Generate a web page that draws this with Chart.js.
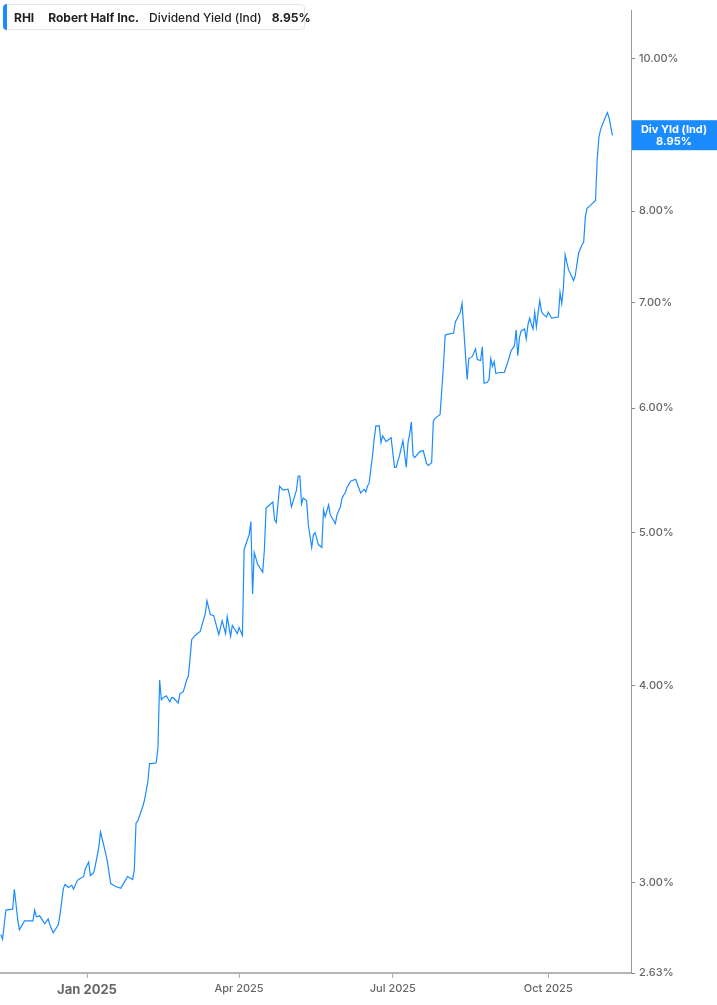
<!DOCTYPE html>
<html><head><meta charset="utf-8">
<script src="https://cdn.jsdelivr.net/npm/chart.js@4"></script>
<style>
html,body{margin:0;padding:0;background:#fff;font-family:Inter,"Noto Sans",sans-serif}
#wrap{position:relative;width:717px;height:1005px}
#legend{position:absolute;left:3px;top:4px;height:26px;width:302px;border:1px solid #e6e6e6;border-radius:4px;background:#fff;box-sizing:border-box;display:flex;align-items:center;font-size:12px;font-weight:700;color:#222;white-space:nowrap}
#legend .bar{position:absolute;left:-1px;top:-1px;bottom:-1px;width:4px;background:#1a8cff;border-radius:4px 0 0 4px}
#legend span{margin-left:10px}
</style></head><body>
<div id="wrap"><canvas id="c" width="717" height="1005"></canvas>
<div id="legend"><div class="bar"></div><span>RHI</span><span style="margin-left:14px">Robert Half Inc.</span><span style="margin-left:10px;font-weight:500">Dividend Yield (Ind)</span><span>8.95%</span></div>
</div>
<script>
// days relative to 1 Jan 2025
const days = [-51,-50,-48,-44,-43,-41,-40,-37,-32,-31,-30,-28,-25,-23,-22,-20,-17,-16,-14,-13,-11,-9,-8,-6,-5,-2,-1,1,2,4,5,7,8,10,12,14,17,20,22,24,27,28,29,30,33,34,36,37,38,41,42,43,44,45,47,49,50,51,54,55,57,59,60,61,62,64,67,70,71,73,75,78,80,82,83,85,86,89,90,92,93,96,97,98,99,101,104,105,106,110,111,112,114,116,119,120,121,124,125,126,127,128,130,131,133,134,135,137,139,140,141,143,144,147,148,150,151,153,154,156,159,162,164,165,166,167,169,170,171,173,174,175,177,180,182,183,185,187,189,190,191,192,193,194,197,199,201,202,204,205,206,209,211,212,214,217,218,221,222,225,226,228,230,231,233,234,235,237,238,239,240,241,242,244,247,249,251,253,254,255,256,257,259,260,261,262,263,264,265,266,267,268,269,270,272,273,275,279,280,281,282,283,285,288,289,291,293,294,295,296,298,301,302,303,304,307,308,309,311];
const yieldPct = [2.782,2.763,2.883,2.887,2.972,2.842,2.801,2.838,2.838,2.883,2.855,2.859,2.826,2.846,2.822,2.789,2.822,2.863,2.976,2.993,2.980,2.989,2.972,3.006,3.015,3.028,3.063,3.093,3.032,3.045,3.080,3.161,3.231,3.166,3.098,2.997,2.984,2.976,3.002,3.028,3.015,3.058,3.273,3.283,3.354,3.384,3.477,3.570,3.570,3.575,3.657,4.034,3.919,3.931,3.942,3.907,3.931,3.931,3.901,3.954,3.966,4.034,4.057,4.165,4.280,4.305,4.330,4.444,4.529,4.438,4.431,4.311,4.399,4.317,4.425,4.299,4.368,4.317,4.355,4.305,4.881,4.988,5.084,4.574,4.860,4.776,4.722,4.881,5.186,5.231,5.098,5.076,5.353,5.323,5.330,5.277,5.194,5.323,5.432,5.432,5.217,5.262,5.240,5.061,4.895,4.988,5.002,4.916,4.895,5.172,5.120,5.209,5.135,5.069,5.135,5.194,5.262,5.308,5.346,5.392,5.408,5.300,5.330,5.308,5.353,5.377,5.599,5.738,5.846,5.846,5.705,5.762,5.713,5.746,5.503,5.503,5.599,5.721,5.503,5.705,5.779,5.880,5.599,5.582,5.631,5.639,5.534,5.518,5.540,5.886,5.911,5.944,6.387,6.676,6.685,6.695,6.801,6.902,6.990,6.257,6.450,6.468,6.542,6.441,6.432,6.561,6.221,6.230,6.257,6.450,6.376,6.422,6.311,6.320,6.320,6.413,6.524,6.570,6.725,6.477,6.656,6.715,6.735,6.637,6.775,6.843,6.784,6.735,6.902,6.755,6.892,7.021,6.911,6.882,6.853,6.902,6.843,6.853,7.104,6.990,7.155,7.504,7.344,7.228,7.280,7.526,7.613,7.645,7.938,8.031,8.066,8.124,8.631,8.910,9.013,9.184,9.237,9.171,8.936];
const yTicks = [2.63,3,4,5,6,7,8,10];
const xTickDays = [0,90,181,273];
const xTickLabels = ['Jan 2025','Apr 2025','Jul 2025','Oct 2025'];
const lastYield = 8.95;

const pts = days.map((d,i)=>({x:d,y:yieldPct[i]}));
const badge = {id:'badge',afterDraw(ch){
  const ctx=ch.ctx, y=ch.scales.y.getPixelForValue(lastYield);
  ctx.save();ctx.fillStyle='#1a8cff';ctx.fillRect(632,y-14,85,30);
  ctx.fillStyle='#fff';ctx.font='700 11px Inter';ctx.textAlign='center';ctx.textBaseline='middle';
  ctx.fillText('Div Yld (Ind)',674,y-5);ctx.fillText(lastYield.toFixed(2)+'%',674,y+7);ctx.restore();}};
new Chart(document.getElementById('c'),{
  type:'line',
  data:{datasets:[{data:pts,borderColor:'#1a8cff',borderWidth:1.2,pointRadius:0,tension:0,fill:false}]},
  options:{responsive:false,animation:false,
    layout:{padding:0},
    plugins:{legend:{display:false},tooltip:{enabled:false}},
    scales:{
      x:{type:'linear',min:-51.5,max:322,
        afterBuildTicks(s){s.ticks=xTickDays.map(v=>({value:v}));},
        afterFit(s){s.height=32;},
        grid:{display:true,drawOnChartArea:false,tickLength:5,color:'#aaa'},
        border:{color:'#b5b5b5',width:2},
        ticks:{autoSkip:false,maxRotation:0,padding:4,color:'#666',
          callback:(v)=>xTickLabels[xTickDays.indexOf(v)],
          font:(c)=>c.index===0?{family:'Inter',size:13,weight:'700'}:{family:'Inter',size:11,weight:'500'}}},
      y:{type:'logarithmic',position:'right',min:2.63,max:10.72,
        afterBuildTicks(s){s.ticks=yTicks.map(v=>({value:v}));},
        afterFit(s){s.width=86;},
        grid:{display:true,drawOnChartArea:false,tickLength:4,color:'#888'},
        border:{color:'#9a9a9a',width:1},
        ticks:{padding:4,color:'#666',font:{family:'Inter',size:11,weight:'500'},
          callback:(v)=>Number(v).toFixed(2)+'%'}}
    }},
  plugins:[badge]
});
</script></body></html>
